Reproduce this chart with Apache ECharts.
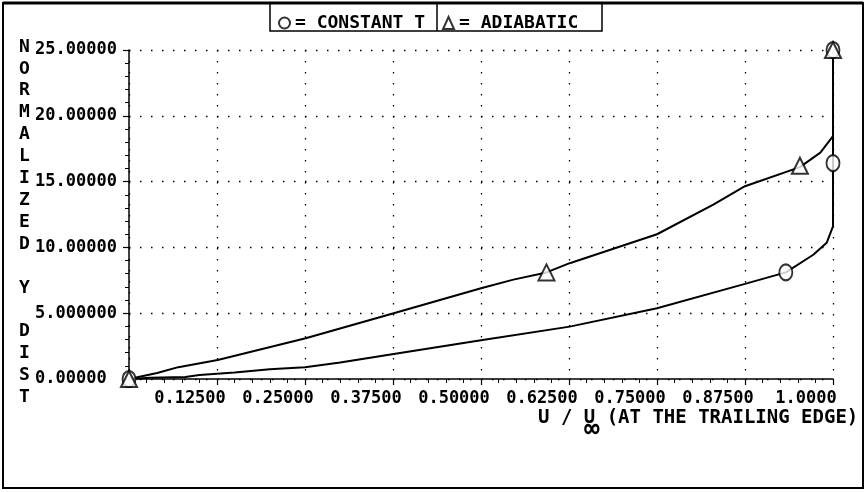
<!DOCTYPE html>
<html>
<head>
<meta charset="utf-8">
<script src="https://cdn.jsdelivr.net/npm/echarts@6/dist/echarts.min.js"></script>
<style>
  html, body { margin: 0; padding: 0; background: #fff; }
  #main { width: 867px; height: 492px; }
</style>
</head>
<body>
<div id="main"></div>
<script>
// constant T curve (circles)
const uConstT = [0, 0.03, 0.08, 0.1, 0.15, 0.2, 0.25, 0.3, 0.376, 0.5, 0.626, 0.75, 0.875, 0.933, 0.972, 0.991, 1.0, 1.0, 1.0];
const yConstT = [0, 0.1, 0.15, 0.3, 0.5, 0.75, 0.9, 1.25, 1.9, 2.95, 3.98, 5.38, 7.23, 8.1, 9.44, 10.35, 11.6, 16.4, 25];
// adiabatic curve (triangles)
const uAdiab = [0, 0.04, 0.07, 0.126, 0.251, 0.376, 0.5, 0.546, 0.593, 0.626, 0.75, 0.83, 0.875, 0.953, 0.982, 1.0, 1.0];
const yAdiab = [0, 0.45, 0.9, 1.45, 3.1, 5.0, 6.9, 7.55, 8.1, 8.8, 11.0, 13.25, 14.65, 16.1, 17.2, 18.45, 25];
// plotted symbols
const constTMarkU = [0, 0.933, 1.0, 1.0];
const constTMarkY = [0, 8.1, 16.4, 25];
const adiabMarkU = [0, 0.593, 0.953, 1.0];
const adiabMarkY = [0, 8.1, 16.2, 25];
// tick labels
const xTickLabels = ['', '0.12500', '0.25000', '0.37500', '0.50000', '0.62500', '0.75000', '0.87500', '1.0000'];
const yTickLabels = ['0.00000', '5.000000', '10.00000', '15.00000', '20.00000', '25.00000'];

const zip = (a, b) => a.map((v, i) => [v, b[i]]);
const FONT = 'DejaVu Sans Mono';

var chart = echarts.init(document.getElementById('main'));

var option = {
  backgroundColor: '#fff',
  animation: false,
  textStyle: { fontFamily: FONT, fontWeight: 'bold', color: '#000' },
  title: [
    {
      text: 'NORMALIZED Y DIST'.split('').join('\n'),
      left: 14, top: 31,
      textStyle: { fontFamily: FONT, fontWeight: 'bold', fontSize: 18, lineHeight: 21.9, color: '#000' }
    },
    {
      text: 'U / U (AT THE TRAILING EDGE)',
      left: 533, top: 404,
      textStyle: { fontFamily: FONT, fontWeight: 'bold', fontSize: 19, color: '#000' }
    },
    {
      text: '\u221e',
      left: 579, top: 412,
      textStyle: { fontFamily: FONT, fontWeight: 'bold', fontSize: 26, color: '#000' }
    }
  ],
  legend: {
    left: 273, top: 9,
    itemWidth: 11, itemHeight: 12,
    itemGap: 17,
    data: [
      { name: 'CONSTANT T', icon: 'emptyCircle' },
      { name: 'ADIABATIC', icon: 'emptyTriangle' }
    ],
    formatter: function (name) { return '= ' + name; },
    textStyle: { fontFamily: FONT, fontWeight: 'bold', fontSize: 18, color: '#000' }
  },
  graphic: [
    { type: 'rect', shape: { x: 3, y: 3, width: 860, height: 485 }, style: { fill: null, stroke: '#000', lineWidth: 2 } },
    { type: 'line', shape: { x1: 3, y1: 3, x2: 863, y2: 3 }, style: { stroke: '#000', lineWidth: 3 } },
    { type: 'rect', shape: { x: 270, y: 3, width: 332, height: 28 }, style: { fill: null, stroke: '#000', lineWidth: 1.5 } },
    { type: 'line', shape: { x1: 437, y1: 3, x2: 437, y2: 31 }, style: { stroke: '#000', lineWidth: 1.5 } }
  ],
  grid: { left: 129, right: 34, top: 50, bottom: 113 },
  xAxis: {
    type: 'value',
    min: 0, max: 1, interval: 0.125,
    axisLine: { lineStyle: { color: '#000', width: 1.5 } },
    axisTick: { length: 6, lineStyle: { color: '#000', width: 1.2 } },
    minorTick: { show: true, splitNumber: 5, length: 4, lineStyle: { color: '#000', width: 1 } },
    splitLine: { show: true, lineStyle: { color: '#000', width: 1.3, type: [1.5, 9.5] } },
    axisLabel: {
      margin: 11,
      fontFamily: FONT, fontWeight: 'bold', fontSize: 17, color: '#000',
      align: 'center', padding: [0, 54, 0, 0],
      showMinLabel: true, showMaxLabel: true,
      formatter: function (v) { return xTickLabels[Math.round(v / 0.125)]; }
    }
  },
  yAxis: {
    type: 'value',
    min: 0, max: 25, interval: 5,
    axisLine: { show: true, lineStyle: { color: '#000', width: 1.5 } },
    axisTick: { show: true, length: 6, lineStyle: { color: '#000', width: 1.2 } },
    minorTick: { show: true, splitNumber: 5, length: 4, lineStyle: { color: '#000', width: 1 } },
    splitLine: { show: true, lineStyle: { color: '#000', width: 1.3, type: [1.5, 9.5] } },
    axisLabel: {
      margin: 94, align: 'left',
      fontFamily: FONT, fontWeight: 'bold', fontSize: 17, color: '#000',
      formatter: function (v) { return yTickLabels[Math.round(v / 5)]; }
    }
  },
  series: [
    {
      name: 'constT-line', type: 'line', data: zip(uConstT, yConstT),
      showSymbol: false, smooth: false, clip: false,
      lineStyle: { color: '#000', width: 2 }
    },
    {
      name: 'adiab-line', type: 'line', data: zip(uAdiab, yAdiab),
      showSymbol: false, smooth: false, clip: false,
      lineStyle: { color: '#000', width: 2 }
    },
    {
      name: 'CONSTANT T', type: 'scatter', data: zip(constTMarkU, constTMarkY),
      symbol: 'emptyCircle', symbolSize: [13, 16], clip: false, z: 5,
      itemStyle: { color: '#000', borderColor: '#000', borderWidth: 1.8 }
    },
    {
      name: 'ADIABATIC', type: 'scatter', data: zip(adiabMarkU, adiabMarkY),
      symbol: 'emptyTriangle', symbolSize: [16, 16], clip: false, z: 6,
      itemStyle: { color: '#000', borderColor: '#000', borderWidth: 1.8 }
    }
  ]
};

chart.setOption(option);
</script>
</body>
</html>
